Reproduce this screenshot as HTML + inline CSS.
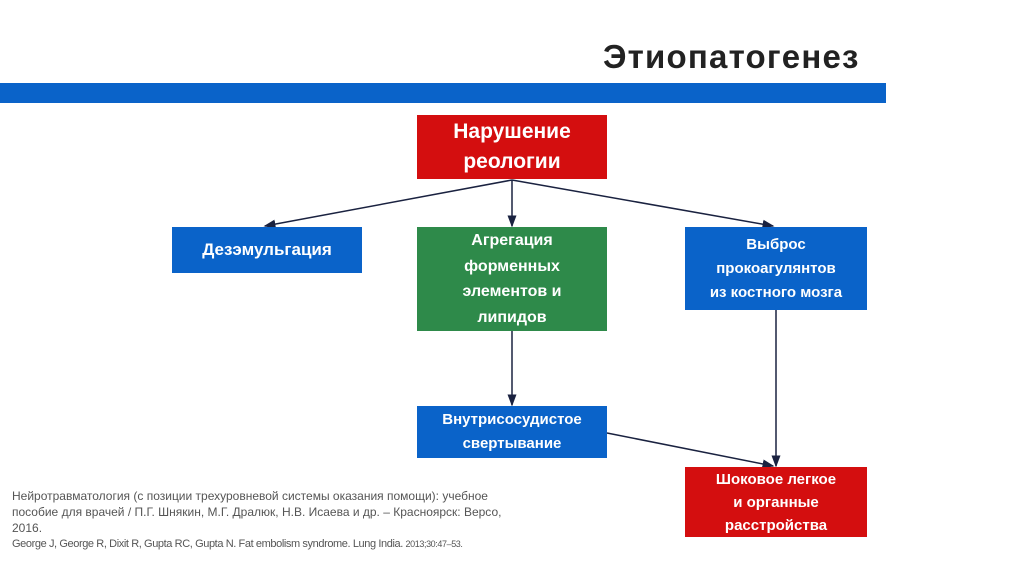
<!DOCTYPE html>
<html><head><meta charset="utf-8"><style>
body{margin:0;width:1024px;height:574px;background:#fff;position:relative;overflow:hidden;font-family:"Liberation Sans",sans-serif}
.b{position:absolute;color:#fff;font-weight:bold;display:flex;align-items:center;justify-content:center;text-align:center;font-size:15px;line-height:24px}
.r{background:#d40e0f}.bl{background:#0a63c9}.g{background:#2e8a4a}
.t{position:absolute;left:603px;top:38px;font-size:33px;font-weight:bold;color:#222;letter-spacing:1.2px}
.ref{position:absolute;left:12px;color:#555;font-size:12px}
</style></head><body>
<div class="t">Этиопатогенез</div>
<div style="position:absolute;left:0;top:83px;width:886px;height:20px;background:#0a63c9"></div>
<svg style="position:absolute;left:0;top:0" width="1024" height="574">
<defs><marker id="a" markerWidth="8" markerHeight="8" refX="7" refY="4" orient="auto"><path d="M0,1 L8,4 L0,7z" fill="#1a2240"/></marker></defs>
<g stroke="#1a2240" stroke-width="1.5" fill="none">
<line x1="512" y1="180" x2="265" y2="226" marker-end="url(#a)"/>
<line x1="512" y1="180" x2="512" y2="226" marker-end="url(#a)"/>
<line x1="512" y1="180" x2="773" y2="226" marker-end="url(#a)"/>
<line x1="512" y1="331" x2="512" y2="405" marker-end="url(#a)"/>
<line x1="607" y1="433" x2="773" y2="466" marker-end="url(#a)"/>
<line x1="776" y1="310" x2="776" y2="466" marker-end="url(#a)"/>
</g></svg>
<div class="b r" style="left:417px;top:115px;width:190px;height:64px;font-size:21px;line-height:30px">Нарушение<br>реологии</div>
<div class="b bl" style="left:172px;top:227px;width:190px;height:46px;font-size:17px">Дезэмульгация</div>
<div class="b g" style="left:417px;top:227px;width:190px;height:104px;font-size:16px;line-height:25.5px">Агрегация<br>форменных<br>элементов и<br>липидов</div>
<div class="b bl" style="left:685px;top:227px;width:182px;height:83px">Выброс<br>прокоагулянтов<br>из костного мозга</div>
<div class="b bl" style="left:417px;top:406px;width:190px;height:52px">Внутрисосудистое<br>свертывание</div>
<div class="b r" style="left:685px;top:467px;width:182px;height:70px;line-height:23px">Шоковое легкое<br>и органные<br>расстройства</div>
<div class="ref" style="top:488px;width:500px;line-height:16px">Нейротравматология (с позиции трехуровневой системы оказания помощи): учебное пособие для врачей / П.Г. Шнякин, М.Г. Дралюк, Н.В. Исаева и др. – Красноярск: Версо, 2016.</div>
<div class="ref" style="top:538px;font-size:11px;letter-spacing:-0.4px">George J, George R, Dixit R, Gupta RC, Gupta N. Fat embolism syndrome. Lung India. <span style="font-size:9px">2013;30:47–53.</span></div>
</body></html>
